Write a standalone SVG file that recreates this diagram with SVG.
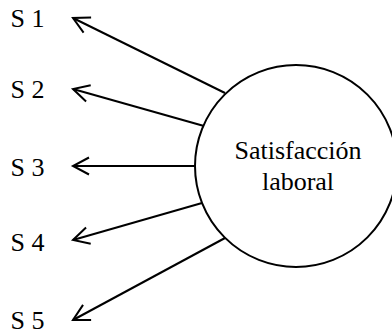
<svg xmlns="http://www.w3.org/2000/svg" width="392" height="336" viewBox="0 0 392 336">
<style>
text { font-family: "Liberation Serif", "Times New Roman", serif; font-size: 26px; fill: #000; }
.conn line { stroke: #000; stroke-width: 2; marker-end: url(#arr); }
.node circle { fill: #fff; stroke: #000; stroke-width: 2; }
</style>
<defs>
<marker id="arr" markerUnits="userSpaceOnUse" viewBox="-20 -12 24 24" markerWidth="24" markerHeight="24" refX="0" refY="0" orient="auto">
<path d="M-16,-8.5 L0,0 L-16,8.5" fill="none" stroke="#000" stroke-width="2"/>
</marker>
</defs>
<rect width="392" height="336" fill="#fff"/>
<g id="connectors" class="conn">
<line x1="225" y1="93" x2="73" y2="18"/>
<line x1="204" y1="126" x2="73" y2="89"/>
<line x1="195" y1="166" x2="73" y2="166"/>
<line x1="202" y1="203" x2="73" y2="240"/>
<line x1="225" y1="238" x2="73" y2="320"/>
</g>
<g id="satisfaccion" class="node">
<circle cx="296" cy="166" r="101"/>
<text x="298" y="159" text-anchor="middle">Satisfacción</text>
<text x="298" y="190" text-anchor="middle">laboral</text>
</g>
<g id="s1"><text x="10.5" y="27">S 1</text></g>
<g id="s2"><text x="10.5" y="98">S 2</text></g>
<g id="s3"><text x="10.5" y="176">S 3</text></g>
<g id="s4"><text x="10.5" y="251">S 4</text></g>
<g id="s5"><text x="10.5" y="329">S 5</text></g>
</svg>
